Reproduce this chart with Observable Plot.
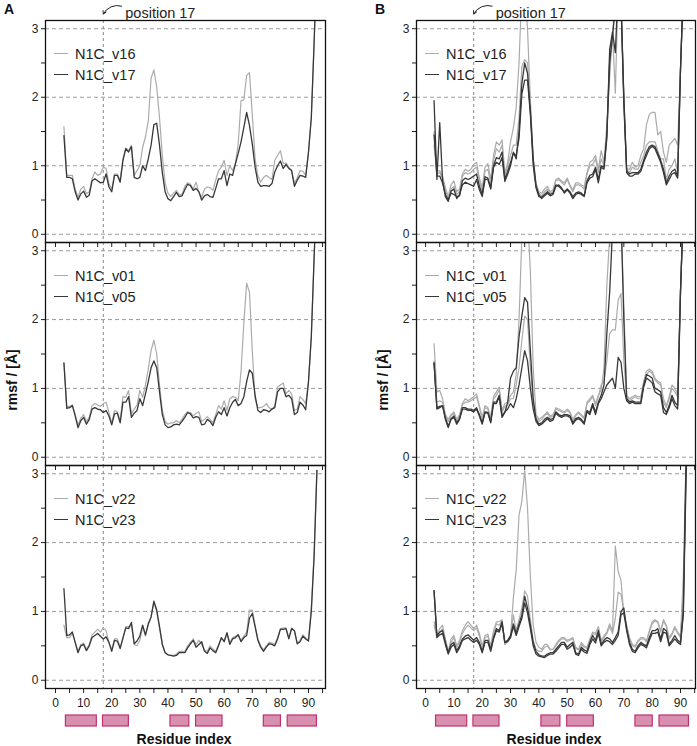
<!DOCTYPE html>
<html><head><meta charset="utf-8">
<script src="https://cdn.jsdelivr.net/npm/d3@7"></script>
<script src="https://cdn.jsdelivr.net/npm/@observablehq/plot@0.6"></script>
<style>
body{margin:0;background:#fff;font-family:"Liberation Sans",Arial,sans-serif;}
#root{position:relative;width:697px;height:746px;overflow:hidden;background:#fff;}
.abs{position:absolute;white-space:nowrap;color:#111;}
.leg{font-size:14.5px;line-height:14.5px;color:#222;}
.bold{font-weight:bold;}
</style></head><body><div id="root"></div>
<script>
// residue index 3..93
const residues = d3.range(3, 94);

// ---- Column A ----
const A1_v16 = [1.57,0.86,0.86,0.86,0.66,0.54,0.66,0.70,0.59,0.62,
 0.81,0.91,0.86,0.88,0.98,0.96,0.74,0.66,0.88,0.88,
 0.79,1.10,1.26,1.22,1.30,0.86,0.93,1.00,1.27,1.42,
 1.65,2.28,2.40,2.15,1.70,1.15,0.75,0.60,0.55,0.60,
 0.64,0.58,0.58,0.70,0.75,0.73,0.66,0.76,0.62,0.54,
 0.66,0.69,0.68,0.64,0.79,0.93,0.98,1.08,0.86,1.00,
 0.93,1.03,1.32,1.95,1.96,2.32,2.36,1.75,1.10,0.85,
 0.76,0.83,0.86,0.83,0.80,1.08,1.15,1.22,1.03,1.04,
 0.98,0.93,0.74,0.83,0.93,0.92,0.86,1.20,1.70,2.80,
 4.00];
const A1_v17 = [1.44,0.83,0.83,0.81,0.62,0.50,0.59,0.63,0.54,0.57,
 0.78,0.81,0.78,0.75,0.76,0.88,0.69,0.62,0.86,0.86,
 0.76,1.08,1.25,1.20,1.28,0.83,0.81,0.83,1.00,0.93,
 1.10,1.30,1.60,1.62,1.30,0.90,0.62,0.52,0.49,0.55,
 0.61,0.55,0.56,0.65,0.73,0.71,0.64,0.67,0.62,0.50,
 0.56,0.58,0.55,0.54,0.67,0.81,0.81,0.93,0.71,0.88,
 0.86,1.03,1.18,1.35,1.56,1.78,1.59,1.32,0.98,0.76,
 0.70,0.71,0.71,0.70,0.74,0.91,1.00,1.07,0.96,1.02,
 0.96,0.93,0.70,0.79,0.86,0.85,0.83,1.20,1.70,2.80,
 4.00];
const A2_v01 = [1.37,0.74,0.74,0.76,0.62,0.47,0.57,0.62,0.52,0.58,
 0.75,0.78,0.76,0.74,0.78,0.80,0.65,0.50,0.68,0.66,
 0.53,0.88,0.87,0.97,0.63,0.70,0.76,0.97,0.87,1.05,
 1.28,1.55,1.70,1.50,1.05,0.68,0.52,0.48,0.50,0.50,
 0.53,0.50,0.55,0.62,0.66,0.65,0.60,0.64,0.66,0.52,
 0.55,0.59,0.55,0.50,0.62,0.75,0.70,0.82,0.68,0.85,
 0.88,0.87,0.82,1.25,1.95,2.53,2.40,1.55,0.85,0.72,
 0.72,0.74,0.78,0.72,0.70,0.75,1.02,1.05,1.08,0.92,
 0.97,0.92,0.68,0.70,0.88,0.84,0.78,1.10,1.75,2.90,
 4.00];
const A2_v05 = [1.37,0.71,0.72,0.75,0.60,0.43,0.53,0.58,0.48,0.55,
 0.70,0.72,0.70,0.69,0.65,0.68,0.60,0.47,0.63,0.64,
 0.50,0.80,0.80,0.88,0.58,0.64,0.68,0.85,0.75,0.92,
 1.10,1.30,1.40,1.30,0.95,0.62,0.47,0.43,0.44,0.47,
 0.48,0.47,0.52,0.58,0.65,0.63,0.57,0.59,0.58,0.47,
 0.48,0.55,0.52,0.46,0.58,0.66,0.62,0.72,0.60,0.72,
 0.80,0.84,0.75,0.78,0.88,1.10,1.27,1.22,0.90,0.68,
 0.65,0.69,0.68,0.66,0.70,0.72,0.95,1.00,1.00,0.88,
 0.90,0.85,0.62,0.65,0.80,0.76,0.69,1.10,1.75,2.90,
 4.00];
const A3_v22 = [0.80,0.62,0.62,0.68,0.55,0.42,0.52,0.54,0.45,0.52,
 0.66,0.70,0.74,0.70,0.76,0.72,0.55,0.45,0.60,0.60,
 0.48,0.60,0.78,0.78,0.80,0.52,0.50,0.58,0.78,0.64,
 0.80,0.92,1.13,1.00,0.76,0.52,0.40,0.37,0.36,0.36,
 0.38,0.42,0.42,0.42,0.50,0.55,0.60,0.52,0.58,0.52,
 0.44,0.42,0.50,0.45,0.42,0.52,0.60,0.58,0.68,0.55,
 0.62,0.64,0.66,0.58,0.64,0.70,1.02,1.02,0.80,0.60,
 0.50,0.44,0.50,0.55,0.54,0.52,0.62,0.75,0.76,0.76,
 0.62,0.76,0.72,0.54,0.58,0.66,0.62,0.58,1.05,1.85,
 3.05];
const A3_v23 = [1.33,0.65,0.66,0.70,0.55,0.40,0.50,0.52,0.43,0.50,
 0.62,0.65,0.68,0.64,0.60,0.63,0.55,0.42,0.58,0.57,
 0.46,0.62,0.76,0.75,0.84,0.53,0.57,0.64,0.80,0.66,
 0.82,0.92,1.15,1.02,0.78,0.52,0.40,0.37,0.36,0.35,
 0.36,0.40,0.40,0.40,0.47,0.53,0.58,0.48,0.52,0.56,
 0.42,0.39,0.47,0.43,0.40,0.50,0.62,0.56,0.69,0.52,
 0.60,0.62,0.66,0.56,0.62,0.65,0.90,0.97,0.78,0.58,
 0.48,0.42,0.48,0.53,0.52,0.50,0.60,0.74,0.74,0.75,
 0.60,0.75,0.72,0.53,0.56,0.64,0.60,0.57,1.00,1.80,
 3.05];

// ---- Column B (replicas) ----
const B1_v16_a = [1.50,0.92,0.93,0.85,0.68,0.55,0.72,0.78,0.62,0.66,
 0.88,0.95,0.92,0.95,1.02,1.05,0.82,0.68,0.98,1.03,
 0.80,1.15,1.35,1.30,1.38,0.90,1.05,1.35,1.55,1.85,
 2.50,3.60,3.60,3.00,1.95,1.10,0.75,0.62,0.60,0.66,
 0.70,0.62,0.65,0.80,0.82,0.78,0.75,0.82,0.72,0.65,
 0.75,0.75,0.72,0.70,0.90,1.05,1.08,1.15,0.95,1.22,
 1.05,1.60,2.30,2.95,2.06,3.60,3.40,2.00,0.95,0.95,
 1.05,0.98,1.00,1.15,1.25,1.60,1.75,1.78,1.78,1.45,
 1.50,1.20,1.05,1.30,1.35,1.40,1.30,2.40,3.60,4.00,
 4.00];
const B1_v16_b = [1.30,0.88,0.90,0.82,0.65,0.52,0.66,0.70,0.58,0.62,
 0.85,0.90,0.88,0.90,0.95,0.98,0.78,0.62,0.92,0.95,
 0.74,1.08,1.25,1.20,1.30,0.85,1.00,1.15,1.30,1.30,
 1.70,2.45,2.55,2.50,1.90,1.10,0.72,0.60,0.56,0.62,
 0.66,0.60,0.62,0.78,0.80,0.76,0.72,0.80,0.70,0.62,
 0.72,0.72,0.70,0.66,0.88,1.00,1.02,1.10,0.90,1.10,
 1.00,1.50,2.60,2.90,3.50,3.60,3.40,2.00,0.95,0.90,
 0.98,0.95,0.95,1.05,1.15,1.30,1.35,1.35,1.35,1.22,
 1.10,1.10,0.80,0.95,1.00,1.10,0.90,2.40,3.60,4.00,
 4.00];
const B1_v17_a = [1.95,0.80,1.63,0.78,0.55,0.48,0.63,0.66,0.52,0.58,
 0.72,0.76,0.74,0.72,0.70,0.80,0.65,0.55,0.80,0.80,
 0.66,0.98,1.05,1.02,1.12,0.77,0.88,1.00,1.20,1.10,
 1.50,2.20,2.50,2.35,1.80,1.10,0.70,0.58,0.52,0.56,
 0.60,0.56,0.58,0.70,0.72,0.68,0.60,0.65,0.60,0.52,
 0.58,0.60,0.58,0.55,0.75,0.82,0.84,0.95,0.75,0.98,
 0.95,1.40,2.70,2.95,2.65,3.60,3.40,2.00,0.90,0.85,
 0.85,0.88,0.88,0.92,1.05,1.15,1.25,1.28,1.25,1.15,
 1.05,0.90,0.72,0.80,0.88,0.90,0.82,2.40,3.60,4.00,
 4.00];
const B1_v17_b = [1.45,0.85,0.85,0.75,0.58,0.50,0.60,0.58,0.55,0.56,
 0.78,0.82,0.80,0.82,0.85,0.88,0.70,0.58,0.84,0.82,
 0.68,1.00,1.12,1.10,1.20,0.80,0.92,1.05,1.18,1.15,
 1.40,2.05,2.25,2.25,1.75,1.00,0.68,0.55,0.54,0.58,
 0.62,0.58,0.60,0.72,0.70,0.66,0.62,0.66,0.62,0.55,
 0.60,0.62,0.60,0.56,0.78,0.86,0.88,0.98,0.80,1.00,
 0.98,1.45,2.50,2.90,3.30,3.60,3.40,1.90,0.92,0.88,
 0.90,0.90,0.90,0.95,1.08,1.20,1.28,1.30,1.28,1.18,
 1.08,0.95,0.75,0.85,0.92,0.95,0.85,2.40,3.60,4.00,
 4.00];
const B2_v01_a = [1.65,0.95,0.97,0.85,0.62,0.55,0.62,0.66,0.55,0.62,
 0.78,0.85,0.82,0.85,0.88,0.92,0.75,0.58,0.75,0.72,
 0.58,0.88,0.95,1.02,0.68,0.78,0.80,0.90,0.95,1.20,
 2.00,3.20,3.80,3.50,2.70,1.30,0.62,0.55,0.58,0.62,
 0.66,0.60,0.62,0.72,0.70,0.68,0.66,0.70,0.66,0.55,
 0.62,0.66,0.62,0.58,0.80,0.85,0.90,0.78,0.90,0.98,
 1.30,2.50,3.20,3.60,3.80,3.70,3.50,2.20,0.90,0.85,
 0.88,0.90,0.88,0.88,1.10,1.25,1.28,1.25,1.15,1.10,
 1.08,0.85,0.75,0.88,1.05,1.00,0.92,2.40,3.60,4.00,
 4.00];
const B2_v01_b = [1.40,0.80,0.82,0.80,0.60,0.52,0.60,0.64,0.52,0.60,
 0.76,0.80,0.80,0.82,0.85,0.88,0.72,0.55,0.72,0.70,
 0.55,0.85,0.90,0.98,0.65,0.74,0.76,0.85,0.85,1.05,
 1.30,1.70,2.05,2.00,1.30,0.80,0.58,0.52,0.55,0.60,
 0.64,0.58,0.60,0.70,0.68,0.66,0.64,0.68,0.64,0.53,
 0.60,0.64,0.60,0.56,0.78,0.82,0.88,0.75,0.88,1.05,
 1.10,1.40,1.80,1.85,1.85,2.28,2.38,1.40,0.88,0.82,
 0.85,0.88,0.85,0.85,1.05,1.20,1.25,1.22,1.12,1.08,
 1.05,0.80,0.72,0.85,1.00,0.95,0.88,2.40,3.60,4.00,
 4.00];
const B2_v05_a = [1.37,0.70,0.72,0.75,0.55,0.43,0.55,0.58,0.48,0.55,
 0.70,0.70,0.68,0.68,0.66,0.70,0.60,0.48,0.65,0.64,
 0.50,0.78,0.78,0.88,0.58,0.65,0.80,1.15,1.25,1.30,
 1.75,2.05,2.32,2.25,1.55,0.85,0.55,0.48,0.50,0.55,
 0.58,0.55,0.56,0.66,0.62,0.60,0.62,0.62,0.60,0.50,
 0.56,0.58,0.55,0.50,0.68,0.65,0.78,0.65,0.80,0.90,
 1.05,1.80,2.40,3.30,3.70,3.70,3.50,2.00,0.85,0.80,
 0.82,0.80,0.80,0.80,1.05,1.20,1.18,1.15,1.00,0.98,
 0.95,0.72,0.65,0.75,0.90,0.80,0.75,2.40,3.60,4.00,
 4.00];
const B2_v05_b = [1.37,0.72,0.74,0.75,0.57,0.45,0.56,0.60,0.50,0.56,
 0.72,0.72,0.70,0.70,0.68,0.72,0.62,0.50,0.66,0.65,
 0.52,0.80,0.80,0.90,0.60,0.66,0.70,0.78,0.72,0.85,
 1.05,1.30,1.55,1.40,1.00,0.70,0.52,0.46,0.48,0.52,
 0.56,0.52,0.54,0.64,0.60,0.58,0.60,0.60,0.58,0.48,
 0.54,0.56,0.53,0.48,0.66,0.62,0.75,0.62,0.78,0.85,
 0.95,1.05,1.10,1.15,1.00,1.45,1.38,1.00,0.82,0.78,
 0.80,0.78,0.78,0.78,1.02,1.15,1.12,1.08,0.95,0.92,
 0.90,0.65,0.62,0.72,0.85,0.75,0.70,2.40,3.60,4.00,
 4.00];
const B3_v22_a = [0.85,0.65,0.75,0.80,0.60,0.42,0.60,0.65,0.50,0.58,
 0.72,0.80,0.85,0.80,0.75,0.80,0.68,0.50,0.65,0.67,
 0.50,0.72,0.85,0.85,0.88,0.52,0.58,0.65,1.20,1.60,
 2.40,2.60,3.05,2.50,1.50,0.80,0.55,0.48,0.45,0.52,
 0.52,0.45,0.45,0.52,0.58,0.62,0.62,0.58,0.60,0.62,
 0.48,0.45,0.55,0.50,0.48,0.60,0.70,0.68,0.78,0.58,
 0.65,0.70,0.82,0.70,1.95,1.58,1.45,0.95,0.80,0.62,
 0.52,0.50,0.58,0.62,0.62,0.58,0.72,0.85,0.88,0.85,
 0.72,0.88,0.80,0.62,0.68,0.78,0.70,0.65,1.50,3.30,
 4.00];
const B3_v22_b = [0.80,0.62,0.70,0.75,0.58,0.42,0.55,0.62,0.48,0.55,
 0.68,0.75,0.80,0.76,0.72,0.76,0.64,0.48,0.62,0.64,
 0.48,0.68,0.82,0.80,0.86,0.52,0.56,0.62,0.95,0.72,
 0.88,1.05,1.30,1.22,0.88,0.58,0.45,0.42,0.42,0.48,
 0.50,0.44,0.45,0.50,0.56,0.60,0.60,0.56,0.58,0.60,
 0.46,0.44,0.52,0.48,0.46,0.58,0.68,0.66,0.76,0.56,
 0.62,0.68,0.78,0.68,0.90,1.28,1.25,1.00,0.78,0.60,
 0.50,0.48,0.56,0.60,0.60,0.56,0.70,0.82,0.86,0.84,
 0.70,0.86,0.78,0.60,0.66,0.76,0.68,0.62,1.20,3.00,
 4.00];
const B3_v23_a = [1.30,0.65,0.70,0.72,0.55,0.40,0.52,0.55,0.43,0.50,
 0.60,0.64,0.66,0.62,0.58,0.62,0.55,0.42,0.58,0.58,
 0.45,0.62,0.75,0.72,0.85,0.55,0.58,0.65,0.82,0.68,
 0.82,0.95,1.22,1.05,0.80,0.55,0.42,0.37,0.35,0.35,
 0.38,0.40,0.40,0.45,0.50,0.55,0.55,0.48,0.52,0.55,
 0.40,0.38,0.48,0.44,0.42,0.55,0.65,0.58,0.72,0.52,
 0.58,0.62,0.60,0.55,0.62,0.70,1.00,1.05,0.75,0.55,
 0.45,0.42,0.50,0.55,0.52,0.50,0.62,0.72,0.72,0.75,
 0.60,0.75,0.72,0.52,0.58,0.65,0.58,0.55,1.00,3.30,
 4.00];
const B3_v23_b = [1.30,0.62,0.66,0.68,0.52,0.38,0.48,0.52,0.40,0.47,
 0.58,0.60,0.62,0.58,0.55,0.58,0.52,0.40,0.55,0.55,
 0.42,0.60,0.72,0.70,0.82,0.55,0.56,0.62,0.78,0.65,
 0.78,0.90,1.12,0.98,0.75,0.50,0.38,0.35,0.34,0.33,
 0.36,0.38,0.38,0.42,0.47,0.52,0.52,0.45,0.48,0.52,
 0.38,0.36,0.45,0.41,0.39,0.52,0.60,0.54,0.68,0.50,
 0.55,0.58,0.56,0.52,0.58,0.65,0.95,0.98,0.72,0.52,
 0.42,0.40,0.47,0.52,0.50,0.47,0.58,0.68,0.68,0.70,
 0.56,0.70,0.68,0.50,0.55,0.60,0.55,0.52,0.95,3.00,
 4.00];

// legend names per row
const legendNames = [["N1C_v16","N1C_v17"],["N1C_v01","N1C_v05"],["N1C_v22","N1C_v23"]];
const columnLabels = ["A","B"];
const yAxisTitle = "rmsf / [Å]";
const xAxisTitle = "Residue index";
const markedResidue = 17;
const markedLabel = "position 17";
const yGridValues = [0,1,2,3];
const yTickValues = [0,0.5,1,1.5,2,2.5,3];
const xTickValues = [0,5,10,15,20,25,30,35,40,45,50,55,60,65,70,75,80,85,90,95];
// secondary-structure elements (residue ranges)
const structStart = [3.7,16.9,40.9,50.0,74.1,82.6];
const structEnd   = [14.7,26.1,47.6,59.4,80.2,93.0];

const panels = [
  [ {light:[A1_v16], dark:[A1_v17]}, {light:[A2_v01], dark:[A2_v05]}, {light:[A3_v22], dark:[A3_v23]} ],
  [ {light:[B1_v16_a,B1_v16_b], dark:[B1_v17_a,B1_v17_b]},
    {light:[B2_v01_a,B2_v01_b], dark:[B2_v05_a,B2_v05_b]},
    {light:[B3_v22_a,B3_v22_b], dark:[B3_v23_a,B3_v23_b]} ]
];

// layout
const LIGHT = "#ababab", DARK = "#383838";
const cols = [
  {svgLeft:0,   mL:45, pw:280, xDomain:[-3.56, 96.05]},
  {svgLeft:371, mL:45, pw:279, xDomain:[-3.2, 95.3]}
];
const rowTops = [20, 242, 465];
const rowH = [222, 223, 223];
const FONT = "Liberation Sans, Arial, sans-serif";
const root = document.getElementById("root");

function toRows(seriesList, kind) {
  const out = [];
  seriesList.forEach((s, k) => s.forEach((v, i) => out.push({r: residues[i], v, s: kind + k})));
  return out;
}

function addAbs(el, left, top) {
  el.style.position = "absolute";
  el.style.left = left + "px";
  el.style.top = top + "px";
  root.appendChild(el);
}

cols.forEach((c, ci) => {
  for (let ri = 0; ri < 3; ri++) {
    const isTop = ri === 0, isBottom = ri === 2;
    const mT = isTop ? 20 : 0;
    const mB = isBottom ? 24 : 0;
    const p = panels[ci][ri];
    const marks = [
      Plot.ruleY(yGridValues, {stroke:"#9c9c9c", strokeDasharray:"4,3", strokeWidth:1}),
      Plot.ruleX([markedResidue], {stroke:"#888", strokeDasharray:"3,3", strokeWidth:1}),
      Plot.line(toRows(p.light, "L"), {x:"r", y:"v", z:"s", stroke:LIGHT, strokeWidth:1.2, clip:true}),
      Plot.line(toRows(p.dark, "D"), {x:"r", y:"v", z:"s", stroke:DARK, strokeWidth:1.3, clip:true}),
      Plot.axisY({ticks:yTickValues, tickSize:4, tickPadding:3, label:null,
                  tickFormat: d => Number.isInteger(d) ? String(d) : ""}),
      Plot.axisX({ticks:xTickValues, tickSize:5, tickPadding:5, label:null,
                  tickFormat: isBottom ? (d => d % 10 === 0 ? String(d) : "") : (() => "")}),
      Plot.frame({stroke:"#111", strokeWidth:1.3})
    ];
    if (isTop) {
      const annot = [{x1: markedResidue + 6.5, y1: 3.33, x2: markedResidue, y2: 3.215}];
      marks.push(Plot.arrow(annot, {x1:"x1", y1:"y1", x2:"x2", y2:"y2", bend:-40, headLength:5, stroke:"#222", strokeWidth:1}));
      marks.push(Plot.text([markedResidue], {x: d => d, text: () => markedLabel, frameAnchor:"top",
        dx: 22, dy: -13, textAnchor:"start", fontSize: 14.5, fill:"#222"}));
    }
    const svg = Plot.plot({
      width: c.mL + c.pw, height: mT + rowH[ri] + mB,
      marginLeft: c.mL, marginRight: 0, marginTop: mT, marginBottom: mB,
      x: {domain: c.xDomain},
      y: {domain: [-0.12, 3.12]},
      style: {background:"transparent", overflow:"visible", fontSize:"12px", fontFamily:FONT, color:"#222"},
      marks
    });
    addAbs(svg, c.svgLeft, rowTops[ri] - mT);

    // legend
    const frameLeft = c.svgLeft + c.mL;
    [[LIGHT, legendNames[ri][0], 34], [DARK, legendNames[ri][1], 55]].forEach(([col, name, off]) => {
      const yc = rowTops[ri] + off;
      const ln = document.createElement("div");
      ln.style.cssText = `width:14px;height:0;border-top:1.6px solid ${col};`;
      addAbs(ln, frameLeft + 9, yc - 0.8);
      const tx = document.createElement("div");
      tx.className = "leg";
      tx.textContent = name;
      addAbs(tx, frameLeft + 30, yc - 7);
    });
  }

  // secondary structure strip
  const strip = Plot.plot({
    width: c.mL + c.pw, height: 13,
    marginLeft: c.mL, marginRight: 0, marginTop: 1, marginBottom: 1,
    x: {domain: c.xDomain, axis: null},
    style: {background:"transparent", overflow:"visible"},
    marks: [Plot.rect(structStart.map((s, i) => ({start: s, end: structEnd[i]})),
      {x1:"start", x2:"end", fill:"#d98fb0", stroke:"#c2306c", strokeWidth:1.2})]
  });
  addAbs(strip, c.svgLeft, 714);

  // column letter
  const lab = document.createElement("div");
  lab.className = "abs bold"; lab.style.fontSize = "14px"; lab.textContent = columnLabels[ci];
  addAbs(lab, ci === 0 ? 4 : 375, 1);

  // x title
  const xt = document.createElement("div");
  xt.className = "abs bold"; xt.style.fontSize = "14px"; xt.textContent = xAxisTitle;
  xt.style.width = "200px"; xt.style.textAlign = "center";
  addAbs(xt, (ci === 0 ? 184 : 554) - 100, 731);

  // y title
  const yt = document.createElement("div");
  yt.className = "abs bold"; yt.style.fontSize = "14px"; yt.textContent = yAxisTitle;
  yt.style.width = "100px"; yt.style.textAlign = "center"; yt.style.lineHeight = "16px";
  yt.style.transform = "rotate(-90deg)";
  addAbs(yt, (ci === 0 ? 12 : 383) - 50, 380 - 8);
});
</script>
</body></html>
